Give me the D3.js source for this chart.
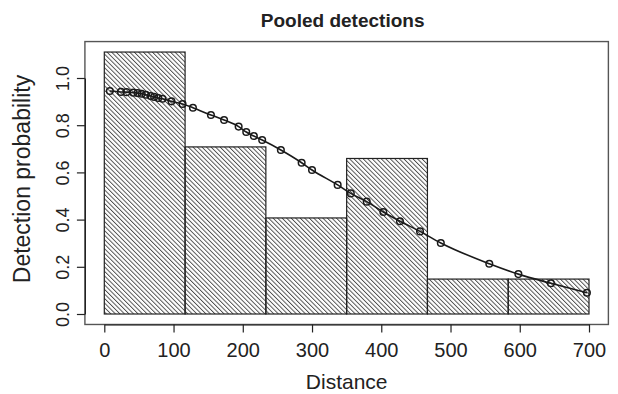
<!DOCTYPE html>
<html>
<head>
<meta charset="utf-8">
<script src="https://cdn.jsdelivr.net/npm/d3@7"></script>
<style>
  body { margin: 0; background: #fff; }
  text { font-family: "Liberation Sans", Arial, sans-serif; fill: #222; }
</style>
</head>
<body>
<div id="canvas"></div>
<script>
"use strict"

let svgWidth = 618;
let svgHeight = 394;

/* histogram of pooled detections: bin breaks and heights */
let binBreaks = [0, 116.67, 233.33, 350, 466.67, 583.33, 700];
let binHeights = [1.11, 0.708, 0.407, 0.659, 0.148, 0.148];

/* fitted detection probability at each observed distance */
let distances = [8, 24, 32, 42, 48, 54, 60, 67, 72, 78, 84, 97, 113, 128, 154, 173,
    194, 205, 216, 228, 255, 285, 300, 337, 356, 379, 403, 427, 456, 486, 556, 598, 645, 697];
let probs = [0.945, 0.941, 0.940, 0.938, 0.936, 0.933, 0.929, 0.924, 0.920, 0.915, 0.912,
    0.901, 0.890, 0.874, 0.843, 0.822, 0.794, 0.771, 0.754, 0.737, 0.695, 0.641, 0.610,
    0.547, 0.511, 0.476, 0.432, 0.393, 0.350, 0.301, 0.213, 0.169, 0.130, 0.090];

let xTicks = [0, 100, 200, 300, 400, 500, 600, 700];
let yTicks = [0, 0.2, 0.4, 0.6, 0.8, 1.0];

let svg = d3.select("#canvas")
    .append("svg")
    .attr("width", svgWidth)
    .attr("height", svgHeight);

/* Scales (R style 4% padding around the data range) */
let xScale = d3.scaleLinear()
    .domain([0, 700])
    .range([104.3, 589]);

let yScale = d3.scaleLinear()
    .domain([0, 1])
    .range([314, 78]);

let xPad = 700 * 0.04;
let yMax = d3.max(binHeights);
let yPad = yMax * 0.04;

let boxLeft = xScale(-xPad);
let boxRight = xScale(700 + xPad);
let boxTop = yScale(yMax + yPad);
let boxBottom = yScale(-yPad);

/* hatch pattern */
let defs = svg.append("defs");
defs.append("pattern")
    .attr("id", "hatch")
    .attr("patternUnits", "userSpaceOnUse")
    .attr("width", 3.2)
    .attr("height", 10)
    .attr("patternTransform", "rotate(-45)")
    .append("line")
    .attr("x1", 0.5).attr("y1", 0)
    .attr("x2", 0.5).attr("y2", 10)
    .attr("stroke", "#3a3a3a")
    .attr("stroke-width", 0.85);

/* Bars */
let bins = binHeights.map(function (h, i) {
    return {x0: binBreaks[i], x1: binBreaks[i + 1], h: h};
});

svg.selectAll("rect.bar")
    .data(bins)
    .join("rect")
    .attr("class", "bar")
    .attr("x", d => xScale(d.x0))
    .attr("y", d => yScale(d.h))
    .attr("width", d => xScale(d.x1) - xScale(d.x0))
    .attr("height", d => yScale(0) - yScale(d.h))
    .attr("fill", "url(#hatch)")
    .attr("stroke", "#222")
    .attr("stroke-width", 1.2);

/* Detection curve */
let points = distances.map((d, i) => ({x: d, p: probs[i]}));

let line = d3.line()
    .x(d => xScale(d.x))
    .y(d => yScale(d.p))
    .curve(d3.curveMonotoneX);

svg.append("path")
    .datum(points)
    .attr("d", line)
    .attr("fill", "none")
    .attr("stroke", "#1a1a1a")
    .attr("stroke-width", 1.6);

svg.selectAll("circle.pt")
    .data(points)
    .join("circle")
    .attr("class", "pt")
    .attr("cx", d => xScale(d.x))
    .attr("cy", d => yScale(d.p))
    .attr("r", 3.3)
    .attr("fill", "none")
    .attr("stroke", "#1a1a1a")
    .attr("stroke-width", 1.5);

/* Plot box */
svg.append("rect")
    .attr("x", boxLeft)
    .attr("y", boxTop)
    .attr("width", boxRight - boxLeft)
    .attr("height", boxBottom - boxTop)
    .attr("fill", "none")
    .attr("stroke", "#555")
    .attr("stroke-width", 1.4);

/* Axes */
let xAxis = svg.append("g")
    .attr("transform", "translate(0," + boxBottom + ")")
    .call(d3.axisBottom(xScale).tickValues(xTicks).tickSize(8).tickSizeOuter(0).tickPadding(10));

xAxis.select(".domain").attr("stroke", "#222").attr("stroke-width", 1.2);
xAxis.selectAll(".tick line").attr("stroke", "#222").attr("stroke-width", 1.2);
xAxis.selectAll(".tick text")
    .style("font-family", "Liberation Sans, Arial, sans-serif")
    .style("font-size", "20px")
    .attr("fill", "#222");

let yAxis = svg.append("g")
    .attr("transform", "translate(" + boxLeft + ",0)")
    .call(d3.axisLeft(yScale).tickValues(yTicks).tickSize(8).tickSizeOuter(0)
        .tickFormat(d3.format(".1f")));

yAxis.select(".domain").attr("stroke", "#222").attr("stroke-width", 1.2);
yAxis.selectAll(".tick line").attr("stroke", "#222").attr("stroke-width", 1.2);
yAxis.selectAll(".tick text")
    .attr("x", 0)
    .attr("dy", 0)
    .attr("transform", "translate(-16,0) rotate(-90)")
    .attr("text-anchor", "middle")
    .style("font-family", "Liberation Sans, Arial, sans-serif")
    .style("font-size", "18px")
    .attr("fill", "#222");

/* Title and axis labels */
svg.append("text")
    .attr("x", (boxLeft + boxRight) / 2 - 4)
    .attr("y", 27)
    .attr("text-anchor", "middle")
    .style("font-weight", "bold")
    .style("font-size", "19px")
    .text("Pooled detections");

svg.append("text")
    .attr("x", (boxLeft + boxRight) / 2)
    .attr("y", 389)
    .attr("text-anchor", "middle")
    .style("font-size", "21px")
    .text("Distance");

svg.append("text")
    .attr("transform", "translate(30," + ((boxTop + boxBottom) / 2 - 4) + ") rotate(-90)")
    .attr("text-anchor", "middle")
    .style("font-size", "23px")
    .text("Detection probability");
</script>
</body>
</html>
